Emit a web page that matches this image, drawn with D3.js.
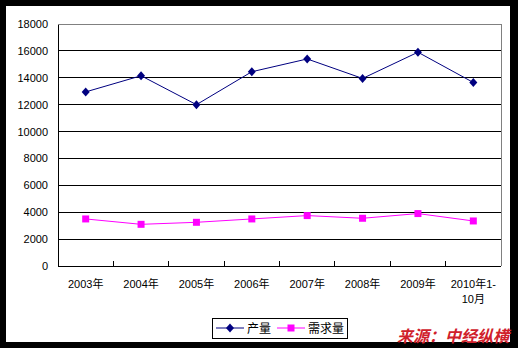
<!DOCTYPE html>
<html>
<head>
<meta charset="utf-8">
<script src="https://cdn.jsdelivr.net/npm/d3@7"></script>
<style>
  body { margin: 0; background: #000; }
  svg { display: block; }
  text { font-family: "Liberation Sans", "Noto Sans CJK SC", sans-serif; }
</style>
</head>
<body>
<div id="chart"></div>
<script>
const categories = ["2003年", "2004年", "2005年", "2006年", "2007年", "2008年", "2009年", "2010年1-\n10月"]
const output = [12950, 14150, 12000, 14450, 15400, 13950, 15900, 13650]
const demand = [3500, 3100, 3250, 3500, 3750, 3550, 3900, 3350]
const yTicks = [0, 2000, 4000, 6000, 8000, 10000, 12000, 14000, 16000, 18000]
const seriesNames = ["产量", "需求量"]
const sourceText = "来源：中经纵横"

const W = 518, H = 348
const margin = {top: 24, right: 17, bottom: 82, left: 58}
const width = W - margin.left - margin.right,
      height = H - margin.top - margin.bottom

const svg = d3.select("#chart").append("svg")
    .attr("width", W)
    .attr("height", H)

// white card inside black frame
svg.append("rect").attr("x", 6).attr("y", 6).attr("width", 504).attr("height", 336).attr("fill", "#fff")

const g = svg.append("g").attr("transform", `translate(${margin.left},${margin.top})`)

const x = d3.scaleBand().domain(categories).range([0, width])
const y = d3.scaleLinear().domain([0, 18000]).range([height, 0])

// gridlines
g.append("g")
    .selectAll("line")
    .data(yTicks.slice(1, -1))
    .join("line")
        .attr("x1", 0).attr("x2", width)
        .attr("y1", d => y(d)).attr("y2", d => y(d))
        .attr("stroke", "#000").attr("stroke-width", 1)
        .attr("shape-rendering", "crispEdges")

// plot frame top/right in gray
g.append("path")
    .attr("d", `M0,${y(18000)}H${width}V${height}`)
    .attr("fill", "none").attr("stroke", "#808080")
    .attr("shape-rendering", "crispEdges")

// y axis
const yAxis = g.append("g")
    .call(d3.axisLeft(y).tickValues(yTicks).tickSize(0).tickPadding(10).tickFormat(d3.format("d")))
yAxis.select(".domain").attr("stroke", "#000").attr("shape-rendering", "crispEdges")
yAxis.selectAll("text").attr("font-size", "11px").attr("fill", "#000")

// x axis with ticks between categories
const xAxis = g.append("g").attr("transform", `translate(0,${height})`)
xAxis.append("line").attr("x1", 0).attr("x2", width).attr("stroke", "#000").attr("shape-rendering", "crispEdges")
xAxis.selectAll(".tk")
    .data(categories.slice(1))
    .join("line")
        .attr("class", "tk")
        .attr("x1", d => x(d)).attr("x2", d => x(d))
        .attr("y1", 0).attr("y2", -5)
        .attr("stroke", "#000").attr("shape-rendering", "crispEdges")
xAxis.selectAll(".lbl")
    .data(categories)
    .join("text")
        .attr("class", "lbl")
        .attr("text-anchor", "middle")
        .attr("font-size", "11px")
        .attr("fill", "#000")
        .attr("transform", d => `translate(${x(d) + x.bandwidth() / 2},22)`)
        .selectAll("tspan")
        .data(d => d.split("\n"))
        .join("tspan")
            .attr("x", 0)
            .attr("dy", (d, i) => i ? 15 : 0)
            .text(d => d)

const cx = (d, i) => x(categories[i]) + x.bandwidth() / 2
const line = d3.line().x(d => d[0]).y(d => d[1])

function drawSeries(vals, color, shape) {
    const pts = vals.map((v, i) => [cx(v, i), y(v)])
    g.append("path").attr("d", line(pts)).attr("fill", "none").attr("stroke", color).attr("stroke-width", 1)
    g.append("g").selectAll("path")
        .data(pts)
        .join("path")
            .attr("transform", d => `translate(${d[0]},${d[1]})`)
            .attr("d", shape)
            .attr("fill", color)
}
const diamond = "M0,-4.5L4,0L0,4.5L-4,0Z"
const square = "M-3.5,-3.5H3.5V3.5H-3.5Z"
drawSeries(output, "#000080", diamond)
drawSeries(demand, "#ff00ff", square)

// legend
const lg = svg.append("g").attr("transform", "translate(212,318)")
lg.append("rect").attr("width", 135).attr("height", 20).attr("fill", "#fff").attr("stroke", "#000").attr("shape-rendering", "crispEdges")
const items = [
    {name: seriesNames[0], color: "#000080", shape: diamond, x: 4},
    {name: seriesNames[1], color: "#ff00ff", shape: square, x: 65}
]
items.forEach(it => {
    lg.append("line").attr("x1", it.x).attr("x2", it.x + 28).attr("y1", 10).attr("y2", 10).attr("stroke", it.color)
    lg.append("path").attr("d", it.shape).attr("transform", `translate(${it.x + 14},10)`).attr("fill", it.color)
    lg.append("text").attr("x", it.x + 31).attr("y", 14.5).attr("font-size", "12px").attr("fill", "#000").text(it.name)
})

// source
svg.append("text")
    .attr("x", 509).attr("y", 342)
    .attr("text-anchor", "end")
    .attr("font-size", "16px")
    .attr("font-weight", "bold")
    .attr("font-style", "italic")
    .attr("fill", "#d0202a")
    .attr("font-family", "Noto Sans CJK SC")
    .text(sourceText)
</script>
</body>
</html>
